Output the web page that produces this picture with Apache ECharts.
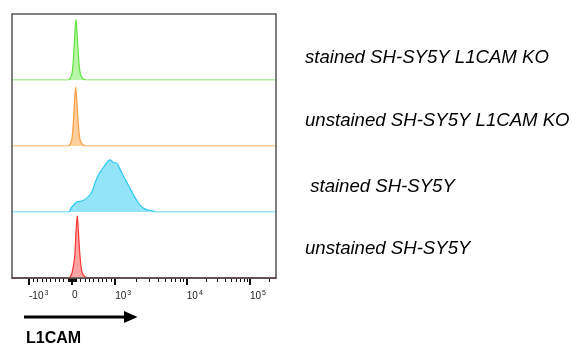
<!DOCTYPE html>
<html>
<head>
<meta charset="utf-8">
<script src="https://cdn.jsdelivr.net/npm/echarts@6/dist/echarts.min.js"></script>
<style>
  html, body { margin: 0; padding: 0; background: #fff; }
  #chart { width: 572px; height: 347px; }
</style>
</head>
<body>
<div id="chart"></div>
<script>
// histogram points, x in display channels (0..1024), y in % of row height
var greenKO = [[0,0],[218,0],[225,2],[232,8],[238,30],[243,66],[248,92],[253,66],[259,30],[266,8],[277,1.5],[290,0],[1024,0]];
var orangeKO = [[0,0],[217,0],[224,2],[231,8],[237,29],[242,64],[247,89],[252,64],[258,29],[265,8],[276,1.5],[289,0],[1024,0]];
var blueWT = [[0,0],[218,0],[232,7.6],[251,15],[270,16.7],[290,21],[309,30],[322,44],[335,56],[354,67],[370,76],
              [380,79],[393,75],[406,74],[419,65],[434,53],[451,41],[471,26],[490,14],[509,6],[529,3],[548,1.5],[555,0],[1024,0]];
var redWT = [[0,0],[219,0],[226,2],[233,8],[243,32],[248,68],[253,94],[258,68],[264,32],[272,8],[283,2],[296,0],[1024,0]];

var rowNames = ['stained SH-SY5Y L1CAM KO', 'unstained SH-SY5Y L1CAM KO', ' stained SH-SY5Y', 'unstained SH-SY5Y'];
var rowData = [greenKO, orangeKO, blueWT, redWT];
var lineColors = ['#5fe33c', '#ff9b3d', '#2cc9f2', '#ff3434'];
var fillColors = ['#b9f5a6', '#ffcf9e', '#93e4f9', '#ffa3a3'];

// axis ticks (data units)
var majorVals = [-1000, 0, 1000, 10000, 100000];
var majorText = ['-10{s|3}', '0', '10{s|3}', '10{s|4}', '10{s|5}'];
var minorVals = [-900,-800,-700,-600,-500,-400,-300,-200,-100,
  -90,-80,-70,-60,-50,-40,-30,-20,-10,10,20,30,40,50,60,70,80,90,
  100,200,300,400,500,600,700,800,900,
  2000,3000,4000,5000,6000,7000,8000,9000,
  20000,30000,40000,50000,60000,70000,80000,90000,200000];

// biexponential-ish display transform: value -> channel
function T(v) {
  if (Math.abs(v) <= 1000) return 233 + v * 0.167;
  if (v <= 10000) return 400 + 278 * Math.log10(v / 1000);
  return 678 + 245 * Math.log10(v / 10000);
}
var majorCh = majorVals.map(T);
var minorCh = minorVals.map(T);

var L = 12, W = 264, TOP = 14, RH = 66;
var grids = [], xAxes = [], yAxes = [], series = [];
for (var i = 0; i < 4; i++) {
  grids.push({ left: L, width: W, top: TOP + i * RH, height: RH });
  yAxes.push({ gridIndex: i, type: 'value', min: 0, max: 100, show: false });
  var last = i === 3;
  xAxes.push({
    gridIndex: i, type: 'value', min: 0, max: 1024, show: last,
    axisLine: { show: last, lineStyle: { color: '#222', width: 1.5 } },
    splitLine: { show: false },
    axisTick: { show: last, customValues: majorCh, length: 7, lineStyle: { color: '#111', width: 2 } },
    axisLabel: {
      show: last, customValues: majorCh, margin: 12, align: 'left',
      color: '#222', fontSize: 10, fontFamily: 'Liberation Sans',
      formatter: function (val) {
        for (var k = 0; k < majorCh.length; k++) if (Math.abs(majorCh[k] - val) < 0.5) return majorText[k];
        return '';
      },
      rich: { s: { fontSize: 7, verticalAlign: 'top', fontFamily: 'Liberation Sans', color: '#222', padding: [0, 0, 6, 1] } }
    }
  });
  series.push({
    type: 'line', xAxisIndex: i, yAxisIndex: i, data: rowData[i],
    showSymbol: false, smooth: 0.35, animation: false,
    lineStyle: { color: lineColors[i], width: 1.2 },
    areaStyle: { color: fillColors[i], opacity: 1 }
  });
}
// minor ticks on the bottom axis
xAxes.push({
  gridIndex: 3, type: 'value', min: 0, max: 1024, position: 'bottom',
  axisLine: { show: false }, splitLine: { show: false }, axisLabel: { show: false },
  axisTick: { show: true, customValues: minorCh, length: 4, lineStyle: { color: '#111', width: 1 } }
});

var graphics = [
  { type: 'rect', shape: { x: L, y: TOP, width: W, height: RH * 4 }, z: 10, silent: true,
    style: { fill: 'none', stroke: '#555', lineWidth: 1.5 } },
  { type: 'line', shape: { x1: 24, y1: 317, x2: 127, y2: 317 }, style: { stroke: '#000', lineWidth: 3 } },
  { type: 'polygon', shape: { points: [[124, 311], [137.5, 317], [124, 323]] }, style: { fill: '#000' } },
  { type: 'text', x: 26, y: 339, style: { text: 'L1CAM', font: 'bold 16px "Liberation Sans"', fill: '#000', verticalAlign: 'middle' } }
];
var labelY = [58, 121, 187, 249];
for (var j = 0; j < 4; j++) {
  graphics.push({ type: 'text', x: 305, y: labelY[j],
    style: { text: rowNames[j], font: 'italic 18.6px "Liberation Sans"', fill: '#000', verticalAlign: 'middle' } });
}

var chart = echarts.init(document.getElementById('chart'));
chart.setOption({
  animation: false,
  grid: grids, xAxis: xAxes, yAxis: yAxes, series: series, graphic: graphics
});
</script>
</body>
</html>
